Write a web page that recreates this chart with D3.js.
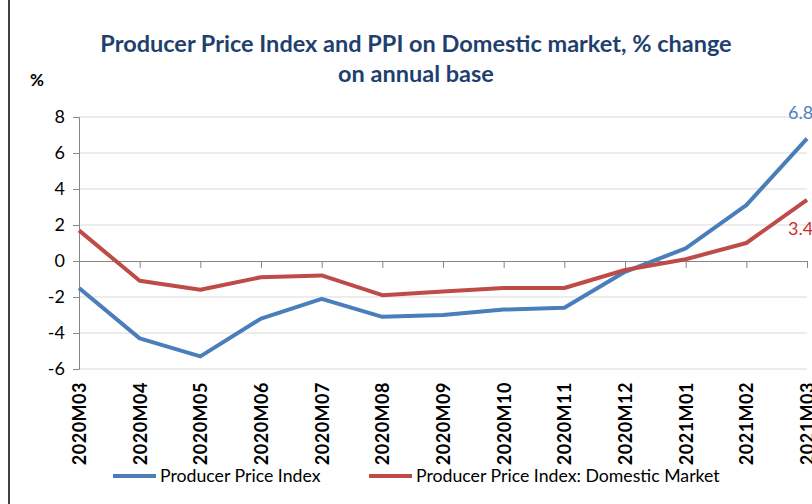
<!DOCTYPE html>
<html>
<head>
<meta charset="utf-8">
<script src="https://cdn.jsdelivr.net/npm/d3@7"></script>
<style>
  body { margin: 0; background: #fff; }
  svg { display: block; }
</style>
</head>
<body>
<svg id="chart"></svg>
<script>
const width = 812;
const height = 504;

// data
const months = ['2020M03', '2020M04', '2020M05', '2020M06', '2020M07', '2020M08', '2020M09',
                '2020M10', '2020M11', '2020M12', '2021M01', '2021M02', '2021M03'];
const ppi = [-1.5, -4.3, -5.3, -3.2, -2.1, -3.1, -3.0, -2.7, -2.6, -0.6, 0.7, 3.1, 6.8];
const ppiDomestic = [1.7, -1.1, -1.6, -0.9, -0.8, -1.9, -1.7, -1.5, -1.5, -0.5, 0.1, 1.0, 3.4];
const yTicks = [-6, -4, -2, 0, 2, 4, 6, 8];
const seriesNames = ['Producer Price Index', 'Producer Price Index: Domestic Market'];
const titleLines = ['Producer Price Index and PPI on Domestic market, % change', 'on annual base'];

const blue = '#4a7ebb';
const red = '#be4b48';
const font = 'Lato, "Open Sans", sans-serif';

const svg = d3.select('#chart').attr('width', width).attr('height', height)
  .attr('font-family', font);

const x = d3.scalePoint().domain(months).range([79, 807]);
const y = d3.scaleLinear().domain([-6, 8]).range([369, 117]);

// left frame edge
svg.append('line')
  .attr('x1', 9).attr('x2', 9).attr('y1', 0).attr('y2', height)
  .attr('stroke', '#000').attr('stroke-width', 1.5);

// title
svg.append('g').selectAll('text')
  .data(titleLines)
  .enter()
  .append('text')
  .attr('x', 416)
  .attr('y', (d, i) => 52 + i * 30)
  .attr('text-anchor', 'middle')
  .attr('font-size', '23.5px')
  .attr('font-weight', 'bold')
  .attr('fill', '#1f3f6e')
  .text(d => d);

svg.append('text')
  .attr('x', 30).attr('y', 86)
  .attr('font-size', '17px').attr('font-weight', 'bold')
  .text('%');

// gridlines
svg.append('g').selectAll('line')
  .data(yTicks.filter(d => d !== 0))
  .enter()
  .append('line')
  .attr('x1', x.range()[0]).attr('x2', x.range()[1])
  .attr('y1', d => y(d)).attr('y2', d => y(d))
  .attr('stroke', '#d9d9d9').attr('stroke-width', 1);

// y axis
const yAxis = svg.append('g')
  .attr('transform', `translate(${x.range()[0]},0)`)
  .call(d3.axisLeft(y).tickValues(yTicks).tickFormat(d => String(d)).tickSize(6).tickPadding(8));
yAxis.selectAll('text').attr('font-size', '18px').attr('fill', '#000').attr('font-family', font);
yAxis.selectAll('line, path').attr('stroke', '#868686');

// x axis sits on zero
const xAxis = svg.append('g')
  .attr('transform', `translate(0,${y(0)})`)
  .call(d3.axisBottom(x).tickSize(7).tickSizeOuter(0));
xAxis.selectAll('line, path').attr('stroke', '#868686');
xAxis.selectAll('text').remove();

// rotated category labels under the plot
svg.append('g').selectAll('text')
  .data(months)
  .enter()
  .append('text')
  .attr('transform', d => `translate(${x(d) + 7},382) rotate(-90)`)
  .attr('text-anchor', 'end')
  .attr('font-size', '18px')
  .attr('font-weight', 'bold')
  .attr('letter-spacing', '0.5px')
  .attr('fill', '#000')
  .text(d => d);

const line = d3.line()
  .x((d, i) => x(months[i]))
  .y(d => y(d));

svg.append('path')
  .attr('d', line(ppi))
  .attr('fill', 'none').attr('stroke', blue).attr('stroke-width', 4)
  .attr('stroke-linejoin', 'round');

svg.append('path')
  .attr('d', line(ppiDomestic))
  .attr('fill', 'none').attr('stroke', red).attr('stroke-width', 4)
  .attr('stroke-linejoin', 'round');

// end labels
const last = months.length - 1;
svg.append('text')
  .attr('x', x(months[last]) - 19).attr('y', y(ppi[last]) - 20)
  .attr('font-size', '18px').attr('fill', '#4f81bd')
  .text(ppi[last].toFixed(1));
svg.append('text')
  .attr('x', x(months[last]) - 19).attr('y', y(ppiDomestic[last]) + 35)
  .attr('font-size', '18px').attr('fill', '#cc2e2e')
  .text(ppiDomestic[last].toFixed(1));

// legend
const legend = svg.append('g').selectAll('g')
  .data(seriesNames)
  .enter()
  .append('g')
  .attr('transform', (d, i) => `translate(${i === 0 ? 113 : 369},476)`);
legend.append('line')
  .attr('x1', 0).attr('x2', 43).attr('y1', 0).attr('y2', 0)
  .attr('stroke', (d, i) => i === 0 ? blue : red).attr('stroke-width', 4);
legend.append('text')
  .attr('x', 47).attr('y', 6)
  .attr('font-size', '17.7px').attr('fill', '#000')
  .text(d => d);
</script>
</body>
</html>
